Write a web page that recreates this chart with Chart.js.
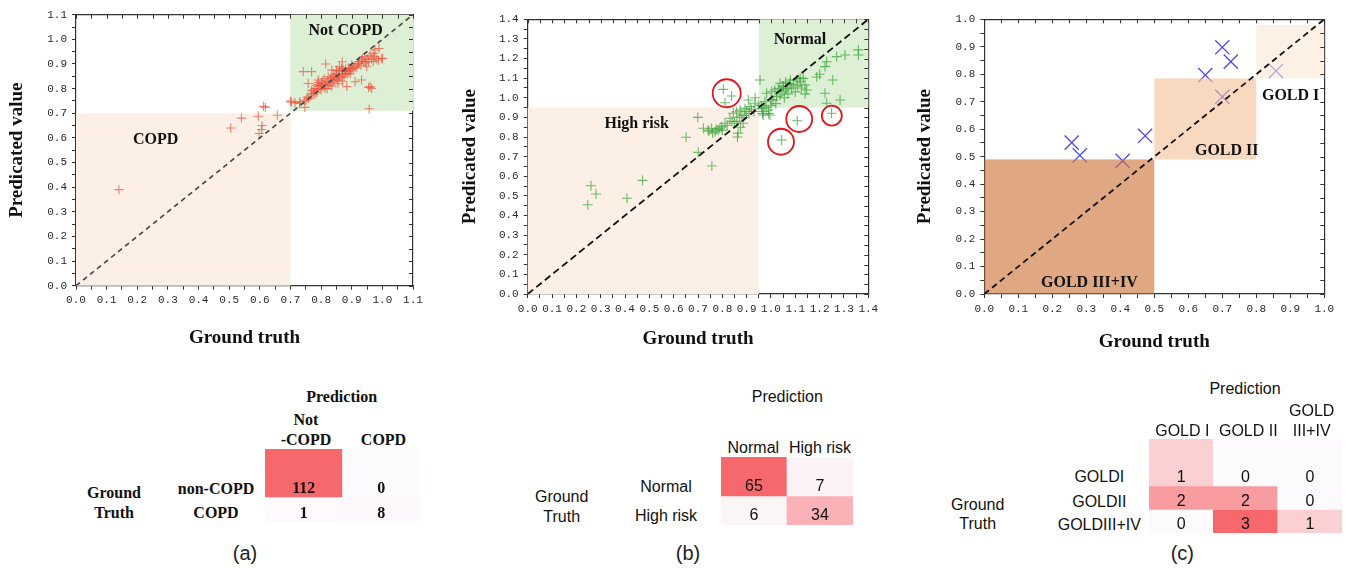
<!DOCTYPE html>
<html>
<head>
<meta charset="utf-8">
<script src="https://cdn.jsdelivr.net/npm/chart.js@4.4.1/dist/chart.umd.min.js"></script>
<style>
html, body { margin: 0; padding: 0; background: #fff; }
body { width: 1346px; height: 568px; position: relative; overflow: hidden; }
canvas { position: absolute; }
.t { position: absolute; transform: translate(-50%, -50%); white-space: nowrap; line-height: 1; color: #111; }
.serif { font: bold 16px "Liberation Serif", "Times New Roman", serif; }
.sans { font: 16px "Liberation Sans", Arial, sans-serif; }
.cap { font: 20px "Liberation Sans", Arial, sans-serif; color: #222; }
</style>
</head>
<body>
<canvas id="scatterA" width="450" height="360" style="left:0;top:0"></canvas>
<canvas id="scatterB" width="450" height="360" style="left:450px;top:0"></canvas>
<canvas id="scatterC" width="446" height="360" style="left:900px;top:0"></canvas>
<canvas id="matrixA" width="155" height="73" style="left:265px;top:449px"></canvas>
<canvas id="matrixB" width="132" height="68" style="left:721px;top:457px"></canvas>
<canvas id="matrixC" width="193" height="94" style="left:1149px;top:439px"></canvas>
<script>
// ground truth vs predicted, panel (a)
const copdPoints = [
  [0.14, 0.39], [0.505, 0.64], [0.54, 0.68], [0.595, 0.688], [0.607, 0.65], [0.606, 0.634],
  [0.598, 0.618], [0.612, 0.728], [0.618, 0.724], [0.657, 0.692], [0.70, 0.749], [0.703, 0.745],
  [0.957, 0.718],
  [0.715, 0.743], [0.731, 0.747], [0.747, 0.724], [0.751, 0.754], [0.742, 0.869], [0.769, 0.869],
  [0.758, 0.821], [0.769, 0.794], [0.778, 0.778], [0.767, 0.770], [0.786, 0.815], [0.791, 0.835],
  [0.815, 0.90], [0.802, 0.821], [0.813, 0.801], [0.823, 0.848], [0.835, 0.875], [0.845, 0.835],
  [0.856, 0.855], [0.867, 0.882], [0.869, 0.909], [0.878, 0.862], [0.884, 0.808], [0.894, 0.875],
  [0.905, 0.882], [0.911, 0.828], [0.922, 0.903], [0.932, 0.916], [0.943, 0.930], [0.949, 0.889],
  [0.960, 0.808], [0.965, 0.801], [0.970, 0.943], [0.976, 0.957], [0.998, 0.923], [0.987, 0.916],
  [0.989, 0.963], [1.0, 0.922], [0.932, 0.835],
  [0.76, 0.76], [0.77, 0.78], [0.775, 0.79], [0.78, 0.80], [0.785, 0.785], [0.79, 0.80],
  [0.795, 0.81], [0.80, 0.795], [0.80, 0.81], [0.805, 0.83], [0.81, 0.815], [0.815, 0.82],
  [0.82, 0.83], [0.825, 0.815], [0.83, 0.84], [0.83, 0.825], [0.835, 0.845], [0.84, 0.83],
  [0.84, 0.855], [0.845, 0.85], [0.85, 0.84], [0.85, 0.86], [0.855, 0.835], [0.86, 0.85],
  [0.86, 0.87], [0.865, 0.845], [0.87, 0.86], [0.87, 0.875], [0.875, 0.85], [0.88, 0.87],
  [0.88, 0.88], [0.885, 0.86], [0.89, 0.87], [0.89, 0.885], [0.895, 0.86], [0.90, 0.88],
  [0.90, 0.895], [0.91, 0.89], [0.915, 0.885], [0.92, 0.90], [0.925, 0.91], [0.93, 0.895],
  [0.935, 0.92], [0.94, 0.91], [0.945, 0.905], [0.95, 0.92], [0.955, 0.91], [0.96, 0.935],
  [0.965, 0.92], [0.97, 0.91], [0.975, 0.93], [0.98, 0.92], [0.82, 0.80], [0.835, 0.81],
  [0.855, 0.82], [0.87, 0.83], [0.79, 0.825], [0.81, 0.84], [0.85, 0.875], [0.86, 0.89],
  [0.955, 0.805], [0.73, 0.74], [0.745, 0.75], [0.755, 0.765]
];

// panel (b)
const riskPoints = [
  [0.247, 0.455], [0.26, 0.552], [0.281, 0.51], [0.408, 0.488], [0.472, 0.579],
  [0.651, 0.799], [0.699, 0.90], [0.701, 0.722], [0.757, 0.652],
  [0.722, 0.845], [0.742, 0.836], [0.745, 0.83], [0.756, 0.845], [0.76, 0.82], [0.77, 0.827],
  [0.775, 0.84], [0.783, 0.836], [0.79, 0.845], [0.797, 0.853], [0.80, 0.835], [0.811, 0.87],
  [0.82, 0.86], [0.831, 0.896], [0.84, 0.88], [0.845, 0.921], [0.859, 0.929], [0.862, 0.80],
  [0.865, 0.82], [0.873, 0.938], [0.88, 0.912], [0.886, 0.87], [0.875, 0.85], [0.893, 0.946],
  [0.90, 0.93], [0.907, 0.989], [0.914, 0.955], [0.92, 0.94], [0.934, 0.972], [0.935, 1.0],
  [0.948, 0.963], [0.955, 1.091], [0.962, 0.946], [0.965, 0.92], [0.968, 0.912], [0.975, 0.98],
  [0.97, 0.93], [0.982, 1.023], [0.989, 0.938], [0.996, 0.912], [1.003, 1.031], [1.0, 0.99],
  [1.009, 0.989], [1.016, 1.04], [1.023, 1.006], [1.03, 1.048], [1.037, 1.074], [1.037, 1.014],
  [1.045, 1.03], [1.051, 1.057], [1.055, 1.0], [1.06, 1.04], [1.065, 1.048], [1.07, 1.02],
  [1.078, 1.074], [1.085, 1.05], [1.092, 1.066], [1.1, 1.03], [1.106, 1.091], [1.11, 1.06],
  [1.119, 1.082], [1.125, 1.05], [1.133, 1.099], [1.14, 1.066], [1.147, 1.04], [1.14, 1.02],
  [1.188, 1.106], [1.2, 1.12], [1.222, 1.159], [1.229, 1.184], [1.27, 1.21], [1.304, 1.218],
  [1.359, 1.244], [1.359, 1.218], [1.254, 1.091], [1.222, 1.023], [1.229, 0.972], [1.284, 0.989],
  [0.804, 1.043], [0.838, 1.009], [0.811, 0.975], [1.108, 0.883], [1.044, 0.785], [1.249, 0.921],
  [0.96, 0.96], [0.98, 0.95], [1.0, 0.96], [1.02, 0.97], [1.05, 1.06], [1.08, 1.09],
  [1.12, 1.1], [0.87, 0.9], [0.89, 0.91], [0.91, 0.92], [0.93, 0.93], [0.86, 0.88],
  [0.85, 0.87], [0.99, 0.92], [1.06, 1.08]
];
// misclassified cases circled in red
const flaggedPoints = [[0.818, 1.023], [1.116, 0.892], [1.041, 0.776], [1.25, 0.909]];

// panel (c)
const goldPoints = [
  [0.257, 0.551], [0.281, 0.505], [0.407, 0.485], [0.473, 0.576], [0.65, 0.797],
  [0.70, 0.898], [0.725, 0.846], [0.70, 0.718], [0.858, 0.812]
];

// class zones [x0, x1, y0, y1]
const copdZones = [[0, 0.7, 0, 0.7], [0.7, 1.1, 0.71, 1.1]];
const copdZoneNames = ['COPD', 'Not COPD'];
const riskZones = [[0, 0.95, 0, 0.95], [0.95, 1.4, 0.95, 1.4]];
const riskZoneNames = ['High risk', 'Normal'];
const goldZones = [[0, 0.5, 0, 0.49], [0.5, 0.8, 0.49, 0.785], [0.8, 1.0, 0.785, 0.98]];
const goldZoneNames = ['GOLD III+IV', 'GOLD II', 'GOLD I'];

// confusion matrices
const copdCols = [['Not', '-COPD'], ['COPD']];
const copdRows = ['non-COPD', 'COPD'];
const copdMatrix = [[112, 0], [1, 8]];
const riskCols = [['Normal'], ['High risk']];
const riskRows = ['Normal', 'High risk'];
const riskMatrix = [[65, 7], [6, 34]];
const goldCols = [['GOLD I'], ['GOLD II'], ['GOLD', 'III+IV']];
const goldRows = ['GOLDI', 'GOLDII', 'GOLDIII+IV'];
const goldMatrix = [[1, 0, 0], [2, 2, 0], [0, 3, 1]];

const SERIF = '"Liberation Serif", "Times New Roman", serif';
const SANS = '"Liberation Sans", Arial, sans-serif';
const MONO = '"Liberation Mono", "DejaVu Sans Mono", monospace';

const zonesPlugin = {
  id: 'zones',
  beforeDatasetsDraw(chart, args, opts) {
    if (!opts.above) paintZones(chart, opts);
  },
  beforeDatasetDraw(chart, args, opts) {
    if (opts.above && args.index === 0) paintZones(chart, opts);
  },
  afterDatasetsDraw(chart, args, opts) {
    const {ctx, scales: {x, y}} = chart;
    ctx.save();
    ctx.font = 'bold 16px ' + SERIF;
    ctx.fillStyle = '#111';
    ctx.textAlign = 'center';
    ctx.textBaseline = 'middle';
    opts.names.forEach((name, i) => {
      const p = opts.labelAt[i];
      ctx.fillText(name, x.getPixelForValue(p[0]), y.getPixelForValue(p[1]));
    });
    ctx.restore();
  }
};

function paintZones(chart, opts) {
  const {ctx, scales: {x, y}} = chart;
  ctx.save();
  opts.boxes.forEach((b, i) => {
    const x0 = x.getPixelForValue(b[0]), x1 = x.getPixelForValue(b[1]);
    const y0 = y.getPixelForValue(b[2]), y1 = y.getPixelForValue(b[3]);
    ctx.fillStyle = opts.fills[i];
    ctx.fillRect(x0, y1, x1 - x0, y0 - y1);
  });
  ctx.restore();
}

// small inward ticks on the top and right frame
const innerTicks = {
  id: 'innerTicks',
  afterDraw(chart) {
    const {ctx, chartArea: a, scales: {x, y}} = chart;
    ctx.save();
    ctx.strokeStyle = '#333';
    ctx.lineWidth = 1;
    ctx.beginPath();
    x.ticks.forEach(t => {
      const px = Math.round(x.getPixelForValue(t.value)) + 0.5;
      ctx.moveTo(px, a.top);
      ctx.lineTo(px, a.top + 4);
    });
    y.ticks.forEach(t => {
      const py = Math.round(y.getPixelForValue(t.value)) + 0.5;
      ctx.moveTo(a.right, py);
      ctx.lineTo(a.right - 4, py);
    });
    ctx.stroke();
    ctx.restore();
  }
};

const tenths = v => Math.abs(v * 10 - Math.round(v * 10)) < 1e-6 ? v.toFixed(1) : '';

function scatterPlot(id, cfg) {
  const canvas = document.getElementById(id);
  const W = canvas.width, H = canvas.height;
  const [L, T, R, B] = cfg.area;
  const titleFont = {family: SERIF, size: 19, weight: 'bold', lineHeight: 1.2};
  const half = 19 * 1.2 / 2;
  const xAxisH = cfg.xTitleY + half - B;
  const tickFont = {family: MONO, size: 11};
  const axis = (extra) => Object.assign({
    type: 'linear',
    min: 0,
    max: cfg.max,
    border: {display: true, color: '#333', width: 1.2},
    grid: {drawOnChartArea: false, tickLength: 4, color: '#333'},
    ticks: {stepSize: 0.05, maxTicksLimit: 100, autoSkip: false, maxRotation: 0,
            callback: tenths, font: tickFont, color: '#2a2a2a'}
  }, extra);

  return new Chart(canvas, {
    type: 'scatter',
    data: {
      datasets: [
        {
          data: [{x: 0, y: 0}, {x: cfg.max, y: cfg.max}],
          showLine: true, pointRadius: 0,
          borderColor: cfg.diag.color, borderWidth: cfg.diag.width, borderDash: cfg.diag.dash
        },
        ...cfg.datasets
      ]
    },
    options: {
      responsive: false,
      animation: false,
      layout: {padding: {left: 0, top: T, right: W - R, bottom: H - B - xAxisH}},
      plugins: {
        legend: {display: false},
        tooltip: {enabled: false},
        zones: cfg.zones
      },
      scales: {
        x: axis({
          position: 'bottom',
          ticks: Object.assign({}, axis({}).ticks, {padding: 4}),
          title: {display: true, text: 'Ground truth', font: titleFont, color: '#111', padding: 0},
          afterFit: s => { s.height = xAxisH; }
        }),
        y: axis({
          position: 'left',
          ticks: Object.assign({}, axis({}).ticks, {padding: 5}),
          title: {display: true, text: 'Predicated value', font: titleFont, color: '#111',
                  padding: {top: cfg.yTitleX - half, bottom: 0}},
          afterFit: s => { s.width = L; }
        }),
        x2: {
          type: 'linear', position: 'top', axis: 'x', min: 0, max: cfg.max,
          ticks: {display: false},
          grid: {drawOnChartArea: false, drawTicks: false},
          border: {display: true, color: '#333', width: 1.2},
          afterFit: s => { s.height = 0; }
        },
        y2: {
          type: 'linear', position: 'right', axis: 'y', min: 0, max: cfg.max,
          ticks: {display: false},
          grid: {drawOnChartArea: false, drawTicks: false},
          border: {display: true, color: '#333', width: 1.2},
          afterFit: s => { s.width = 0; }
        }
      }
    },
    plugins: [zonesPlugin, innerTicks]
  });
}

const toXY = pts => pts.map(p => ({x: p[0], y: p[1]}));

scatterPlot('scatterA', {
  area: [76, 14.7, 413, 285.7], max: 1.1, xTitleY: 337.7, yTitleX: 17,
  diag: {color: '#444', width: 1.6, dash: [5, 4]},
  zones: {boxes: copdZones, names: copdZoneNames, fills: ['#fcf0e6', '#ddefd4'],
          labelAt: [[0.26, 0.59], [0.88, 1.035]]},
  datasets: [{
    data: toXY(copdPoints), pointStyle: 'cross', pointRadius: 4.6,
    borderColor: 'rgba(238, 80, 60, 0.7)', borderWidth: 1.1
  }]
});

scatterPlot('scatterB', {
  area: [77.7, 19.3, 418.3, 294], max: 1.4, xTitleY: 339, yTitleX: 20,
  diag: {color: '#111', width: 1.8, dash: [7, 4]},
  zones: {boxes: riskZones, names: riskZoneNames, fills: ['#fcf0e6', '#ddefd4'],
          labelAt: [[0.448, 0.865], [1.119, 1.295]]},
  datasets: [
    {
      data: toXY(riskPoints), pointStyle: 'cross', pointRadius: 5,
      borderColor: 'rgba(60, 165, 60, 0.75)', borderWidth: 1.1
    },
    {
      data: toXY(flaggedPoints), pointStyle: 'circle', pointRadius: [14, 13, 13, 10],
      backgroundColor: 'rgba(0,0,0,0)', borderColor: '#e5141c', borderWidth: 1.8
    }
  ]
});

scatterPlot('scatterC', {
  area: [84.3, 19.3, 424.3, 294], max: 1.0, xTitleY: 342, yTitleX: 25,
  diag: {color: '#111', width: 1.8, dash: [6, 4]},
  zones: {boxes: goldZones, names: goldZoneNames, above: true,
          fills: ['rgba(203, 110, 47, 0.6)', 'rgba(245, 190, 150, 0.6)', 'rgba(252, 230, 210, 0.6)'],
          labelAt: [[0.309, 0.039], [0.713, 0.522], [0.901, 0.722]]},
  datasets: [{
    data: toXY(goldPoints), pointStyle: 'crossRot', pointRadius: 10,
    borderColor: '#4a4af2', borderWidth: 1.3
  }]
});

// ---- confusion matrices ----
const lo = [252, 250, 253], hi = [247, 104, 108];
const shade = f => Math.max(0, f - 0.06) / 0.94;
const cellColor = f => 'rgb(' + lo.map((c, k) => Math.round(c + (hi[k] - c) * shade(f))).join(',') + ')';

const cellValues = {
  id: 'cellValues',
  afterDatasetsDraw(chart, args, opts) {
    const {ctx, scales: {y}} = chart;
    ctx.save();
    ctx.font = opts.font;
    ctx.fillStyle = '#111';
    ctx.textAlign = 'center';
    ctx.textBaseline = 'middle';
    opts.matrix.forEach((row, i) => {
      const meta = chart.getDatasetMeta(i);
      row.forEach((v, j) => {
        ctx.fillText(String(v), meta.data[j].x, y.getPixelForValue(i + opts.textOffset));
      });
    });
    ctx.restore();
  }
};

function matrixPlot(id, cols, matrix, ext, font) {
  const maxVal = Math.max(...matrix.flat());
  return new Chart(document.getElementById(id), {
    type: 'bar',
    data: {
      labels: cols.map(c => c.join(' ')),
      datasets: matrix.map((row, i) => ({
        data: row.map(() => [i === 0 ? -ext : i, i + 1]),
        backgroundColor: row.map(v => cellColor(v / maxVal)),
        grouped: false, barPercentage: 1, categoryPercentage: 1,
        borderWidth: 0, borderSkipped: false
      }))
    },
    options: {
      responsive: false,
      animation: false,
      layout: {padding: 0},
      plugins: {
        legend: {display: false},
        tooltip: {enabled: false},
        cellValues: {matrix, textOffset: 0.66, font}
      },
      scales: {
        x: {display: false},
        y: {display: false, reverse: true, min: -ext, max: matrix.length}
      }
    },
    plugins: [cellValues]
  });
}

matrixPlot('matrixA', copdCols, copdMatrix, 0.92, 'bold 16px ' + SERIF);
matrixPlot('matrixB', riskCols, riskMatrix, 0.345, '16px ' + SANS);
matrixPlot('matrixC', goldCols, goldMatrix, 1.0, '16px ' + SANS);

// ---- table text ----
function put(text, x, y, cls) {
  const d = document.createElement('div');
  d.className = 't ' + cls;
  d.textContent = text;
  d.style.left = x + 'px';
  d.style.top = y + 'px';
  document.body.appendChild(d);
}

function tableText(t) {
  put('Prediction', t.pred[0], t.pred[1], t.cls);
  t.cols.forEach((lines, j) => {
    lines.forEach((s, k) => {
      put(s, t.colX[j], t.colY - (lines.length - 1 - k) * t.lineGap, t.cls);
    });
  });
  t.rows.forEach((s, i) => put(s, t.rowX, t.rowY[i], t.cls));
  put('Ground', t.gt[0], t.gt[1], t.cls);
  put('Truth', t.gt[0], t.gt[2], t.cls);
  put(t.caption, t.cap[0], t.cap[1], 'cap');
}

tableText({cls: 'serif', cols: copdCols, rows: copdRows, pred: [341.7, 396.7],
  colX: [306, 383.5], colY: 440, lineGap: 20, rowX: 216, rowY: [489, 513.3],
  gt: [114, 493.3, 513.3], caption: '(a)', cap: [245, 553]});
tableText({cls: 'sans', cols: riskCols, rows: riskRows, pred: [787.3, 396.7],
  colX: [753.3, 820], colY: 448.3, lineGap: 20, rowX: 666, rowY: [486.7, 515.7],
  gt: [561.7, 496.7, 516.7], caption: '(b)', cap: [688, 553]});
tableText({cls: 'sans', cols: goldCols, rows: goldRows, pred: [1245, 389],
  colX: [1182.3, 1248.3, 1311.7], colY: 431, lineGap: 20.3, rowX: 1099.3, rowY: [477.3, 501.7, 525],
  gt: [977.7, 505, 524], caption: '(c)', cap: [1182.3, 552.7]});
</script>
</body>
</html>
